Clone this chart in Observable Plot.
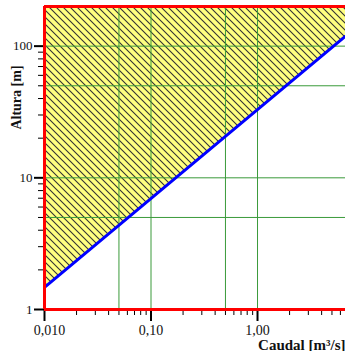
<!DOCTYPE html>
<html>
<head>
<meta charset="utf-8">
<script src="https://cdn.jsdelivr.net/npm/d3@7"></script>
<script src="https://cdn.jsdelivr.net/npm/@observablehq/plot@0.6"></script>
<style>
  html, body { margin: 0; padding: 0; background: #fff; }
</style>
</head>
<body>
<div id="chart"></div>
<script>
// ---- data ----
const xDomain = [0.01, 6.7];
const yDomain = [1, 200];
const xMajor = [0.01, 0.1, 1];
const xMajorLabels = ["0,010", "0,10", "1,00"];
const xMinor = [0.02, 0.03, 0.04, 0.05, 0.06, 0.07, 0.08, 0.09,
                0.2, 0.3, 0.4, 0.5, 0.6, 0.7, 0.8, 0.9,
                2, 3, 4, 5, 6];
const yMajor = [1, 10, 100];
const yMajorLabels = ["1", "10", "100"];
const yMinor = [2, 3, 4, 5, 6, 7, 8, 9, 20, 30, 40, 50, 60, 70, 80, 90];
const xGrid = [0.05, 0.1, 0.5, 1];
const yGrid = [5, 10, 50, 100];
const boundaryQ = [0.01, 6.7];
const boundaryH = [1.47, 119];
const xTitle = "Caudal [m³/s]";
const yTitle = "Altura [m]";

const boundary = boundaryQ.map((q, i) => ({q, h: boundaryH[i], top: yDomain[1]}));
const xLab = xMajor.map((v, i) => ({v, t: xMajorLabels[i]}));
const yLab = yMajor.map((v, i) => ({v, t: yMajorLabels[i]}));

const plot = Plot.plot({
  width: 345,
  height: 351,
  marginLeft: 44,
  marginRight: 0,
  marginTop: 6,
  marginBottom: 42,
  style: {fontFamily: "'Liberation Serif', serif", fontSize: "13px", color: "#000", background: "#fff"},
  x: {type: "log", domain: xDomain, axis: null},
  y: {type: "log", domain: yDomain, axis: null},
  marks: [
    Plot.areaY(boundary, {x: "q", y1: "h", y2: "top", fill: "url(#hatch)"}),
    Plot.ruleX(xGrid, {stroke: "#3a9a3a", strokeWidth: 1}),
    Plot.ruleY(yGrid, {stroke: "#3a9a3a", strokeWidth: 1}),
    Plot.line(boundary, {x: "q", y: "h", stroke: "#0000ff", strokeWidth: 3}),
    // minor ticks
    Plot.axisX(xMinor, {tickSize: 6, tickFormat: () => "", stroke: "#000", strokeWidth: 1}),
    Plot.axisY(yMinor, {tickSize: 6, tickFormat: () => "", stroke: "#000", strokeWidth: 1}),
    // major ticks
    Plot.axisX(xMajor, {tickSize: 12, tickFormat: () => "", stroke: "#000", strokeWidth: 2}),
    Plot.axisY(yMajor, {tickSize: 10, tickFormat: () => "", stroke: "#000", strokeWidth: 2}),
    // frame (red)
    Plot.ruleX([xDomain[0]], {stroke: "#ff0000", strokeWidth: 3}),
    Plot.ruleY([yDomain[0], yDomain[1]], {stroke: "#ff0000", strokeWidth: 3}),
    // tick labels
    Plot.text(xLab.slice(0, 1), {x: "v", text: "t", frameAnchor: "bottom", lineAnchor: "top", dy: 16, dx: 5, fontSize: 14, fill: "#111"}),
    Plot.text(xLab.slice(1), {x: "v", text: "t", frameAnchor: "bottom", lineAnchor: "top", dy: 16, fontSize: 14, fill: "#111"}),
    Plot.text(yLab, {y: "v", text: "t", frameAnchor: "left", textAnchor: "end", dx: -12, fontSize: 13, fill: "#111"}),
    // axis titles
    Plot.text([xTitle], {frameAnchor: "bottom-right", textAnchor: "end", lineAnchor: "bottom", dy: 40, fontWeight: "bold", fontSize: 15, fill: "#111"}),
    Plot.text([yTitle], {frameAnchor: "top-left", textAnchor: "middle", lineAnchor: "middle", rotate: -90, dx: -28, dy: 91, fontWeight: "bold", fontSize: 14, fill: "#111"})
  ]
});

// hatch pattern
const ns = "http://www.w3.org/2000/svg";
const defs = document.createElementNS(ns, "defs");
const pat = document.createElementNS(ns, "pattern");
pat.setAttribute("id", "hatch");
pat.setAttribute("patternUnits", "userSpaceOnUse");
pat.setAttribute("width", "7");
pat.setAttribute("height", "7");
const bg = document.createElementNS(ns, "rect");
bg.setAttribute("width", "7");
bg.setAttribute("height", "7");
bg.setAttribute("fill", "#ffff80");
pat.appendChild(bg);
const hp = document.createElementNS(ns, "path");
hp.setAttribute("d", "M-1,-1L8,8M-1,6L1,8M6,-1L8,1");
hp.setAttribute("stroke", "#333");
hp.setAttribute("stroke-width", "1.1");
pat.appendChild(hp);
defs.appendChild(pat);
plot.insertBefore(defs, plot.firstChild);

document.getElementById("chart").appendChild(plot);
</script>
</body>
</html>
